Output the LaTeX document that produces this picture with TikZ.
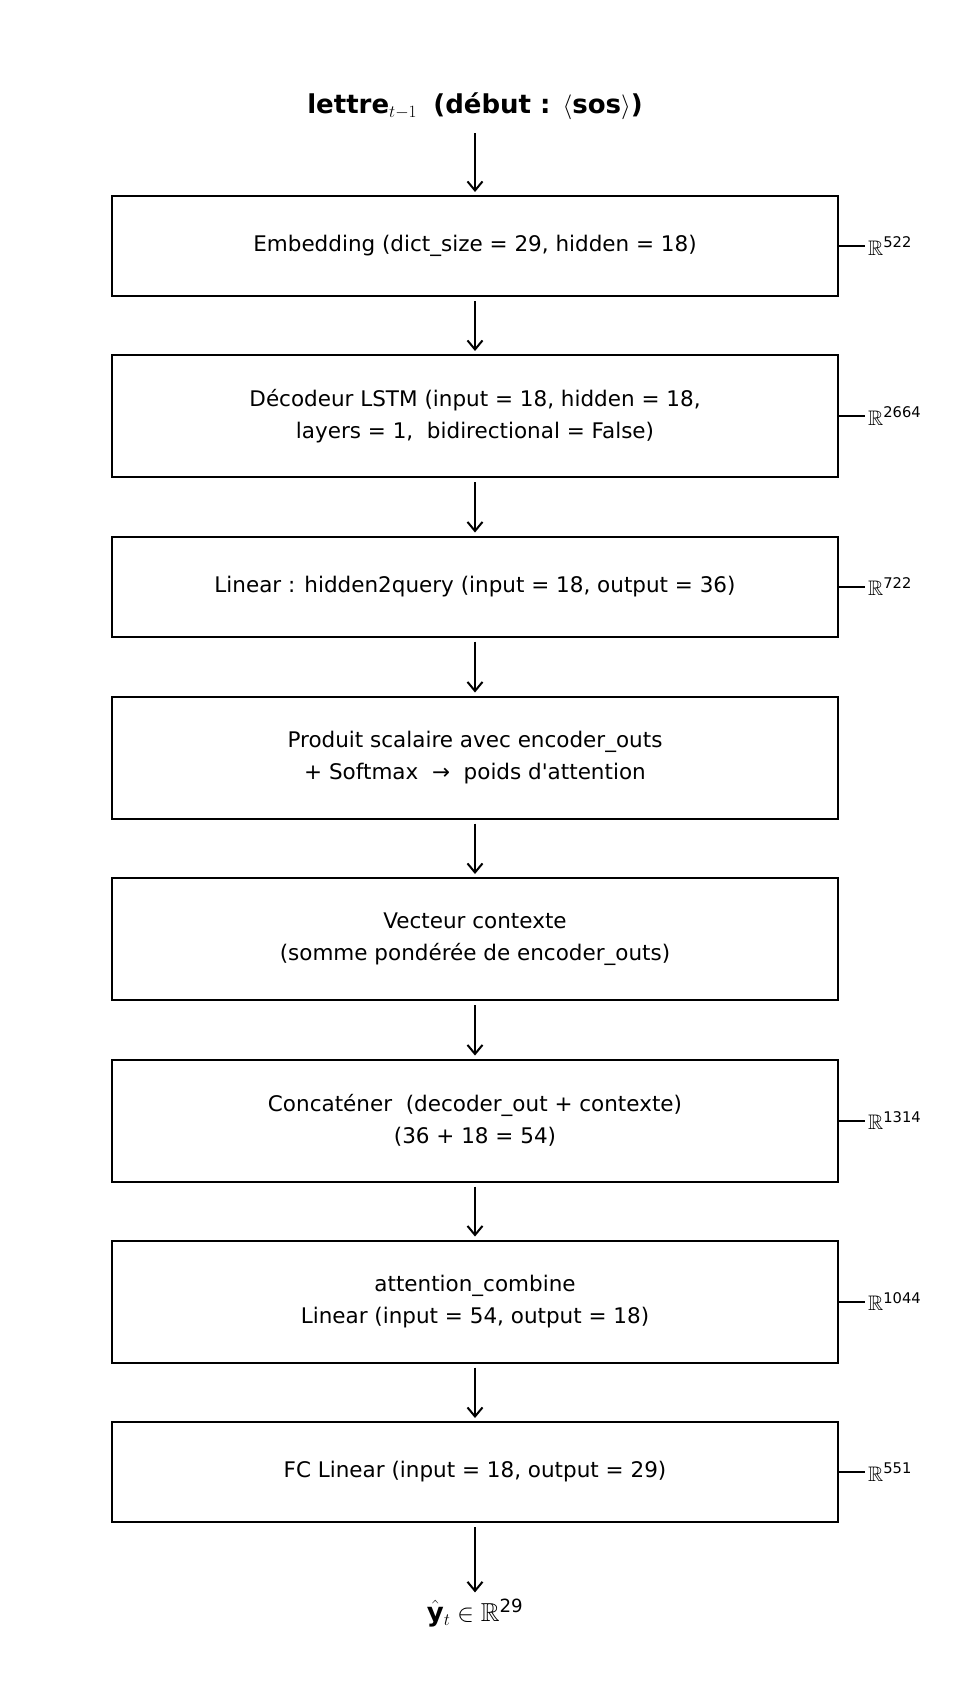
\documentclass[tikz,border=0pt]{standalone}
\usepackage{amssymb}
\usepackage{fontspec}
\setmainfont{DejaVu Sans}
\usetikzlibrary{arrows.meta}
\begin{document}
\begin{tikzpicture}[x=1pt,y=-1pt,
  box/.style={draw,line width=2pt,minimum width=726pt,inner sep=0pt,align=center,font=\fontsize{21.5}{32}\selectfont},
  arr/.style={-{Straight Barb[length=9pt,width=15pt,line width=2pt]},line width=2pt,shorten >=3pt,shorten <=4pt},
  tick/.style={line width=2pt},
  dim/.style={anchor=west,inner sep=3pt,font=\fontsize{21}{24}\selectfont}]
\useasboundingbox (0,0) rectangle (971,1708);
\node[font=\fontsize{26}{30}\selectfont\bfseries] (in) at (475,106) {lettre$_{t-1}$\; (début : $\langle$sos$\rangle$)};
\node[box,minimum height=100pt] (b1) at (475,246) {Embedding (dict\_size = 29, hidden = 18)};
\node[box,minimum height=122pt] (b2) at (475,416) {Décodeur LSTM (input = 18, hidden = 18,\\layers = 1,\ \ bidirectional = False)};
\node[box,minimum height=100pt] (b3) at (475,586.5) {Linear : hidden2query (input = 18, output = 36)};
\node[box,minimum height=122pt] (b4) at (475,757.5) {Produit scalaire avec encoder\_outs\\+ Softmax\ \ →\ \ poids d\textquotesingle attention};
\node[box,minimum height=122pt] (b5) at (475,939) {Vecteur contexte\\(somme pondérée de encoder\_outs)};
\node[box,minimum height=122pt] (b6) at (475,1120.5) {Concaténer\ \ (decoder\_out + contexte)\\(36 + 18 = 54)};
\node[box,minimum height=122pt] (b7) at (475,1301.5) {attention\_combine\\Linear (input = 54, output = 18)};
\node[box,minimum height=100pt] (b8) at (475,1472) {FC Linear (input = 18, output = 29)};
\node[font=\fontsize{26}{30}\selectfont] (out) at (475,1613) {$\hat{\mathbf{y}}_t \in \mathbb{R}$\textsuperscript{29}};
\draw[arr,shorten <=10pt] (in) -- (b1);
\draw[arr] (b1) -- (b2);
\draw[arr] (b2) -- (b3);
\draw[arr] (b3) -- (b4);
\draw[arr] (b4) -- (b5);
\draw[arr] (b5) -- (b6);
\draw[arr] (b6) -- (b7);
\draw[arr] (b7) -- (b8);
\draw[arr] (b8) -- (out);
\foreach \b/\v in {b1/522,b2/2664,b3/722,b6/1314,b7/1044,b8/551}{
  \coordinate (t\b) at ([xshift=26pt]\b.east);
  \draw[tick] (\b.east) -- (t\b);
  \node[dim] (d\b) at (t\b) {$\mathbb{R}$\textsuperscript{\v}};
}
\end{tikzpicture}
\end{document}
